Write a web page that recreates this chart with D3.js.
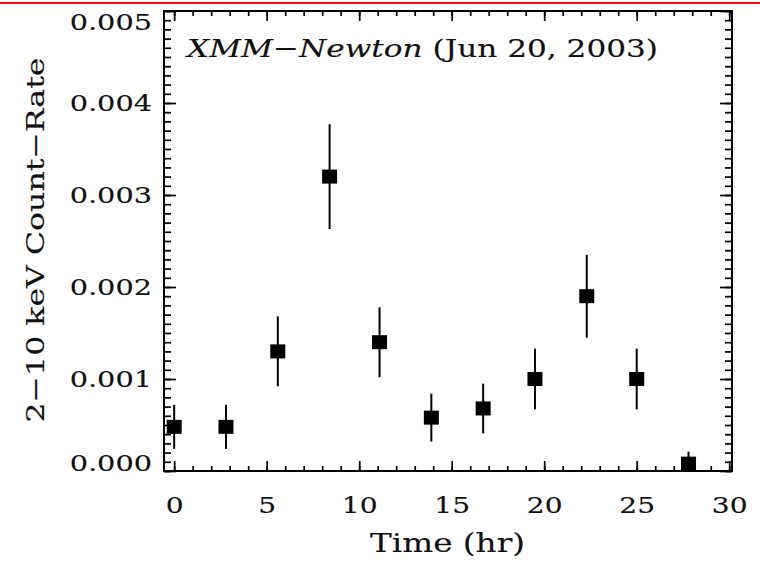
<!DOCTYPE html>
<html><head><meta charset="utf-8">
<script src="https://cdn.jsdelivr.net/npm/d3@7"></script>
<style>
html,body{margin:0;padding:0;background:#fff;}
svg{display:block;}
text{font-family:"DejaVu Serif",serif;fill:#111;stroke:#111;stroke-width:0.15px;}
</style></head>
<body><svg id="c" width="760" height="561"></svg>
<script>
// ---- data ----
const times  = [0, 2.8, 5.6, 8.4, 11.1, 13.9, 16.7, 19.5, 22.3, 25.0, 27.8];
const rates  = [0.00048, 0.00048, 0.0013, 0.0032, 0.0014, 0.00058, 0.00068, 0.0010, 0.0019, 0.0010, 0.00008];
const errors = [0.00024, 0.00024, 0.00038, 0.00057, 0.00038, 0.00026, 0.00027, 0.00033, 0.00045, 0.00033, 0.00013];
const xTicks = [0, 5, 10, 15, 20, 25, 30];
const yTicks = [0, 0.001, 0.002, 0.003, 0.004, 0.005];
const titleItalic = "XMM\u2212Newton";
const titleRest = " (Jun 20, 2003)";
const xLabel = "Time (hr)";
const yLabel = "2\u221210 keV Count\u2212Rate";

const svg = d3.select("#c");
const L = 164, R = 732, T = 11, B = 471;
const x = d3.scaleLinear().domain([-0.55, 30.15]).range([L, R]);
const y = d3.scaleLinear().domain([0, 0.005]).range([B, T]);

// red rule at top
svg.append("rect").attr("x", 0).attr("y", 2).attr("width", 760).attr("height", 2).attr("fill", "#e4161c");

function stretch(sel, f) {
  sel.each(function() {
    const n = this.getComputedTextLength();
    d3.select(this).attr("textLength", n * f).attr("lengthAdjust", "spacingAndGlyphs");
  });
}

const xMinor = d3.range(0, 31, 1);
const yMinor = d3.range(0, 51, 1).map(d => d * 0.0001);

function styleAxis(g) {
  g.selectAll("path.domain").remove();
  g.selectAll("line").attr("stroke", "#000").attr("stroke-width", 1.7);
}
// bottom
const gB = svg.append("g").attr("transform", `translate(0,${B})`)
  .call(d3.axisBottom(x).tickValues(xTicks).tickSize(-10).tickSizeOuter(0).tickPadding(26).tickFormat(d3.format("d")));
styleAxis(gB);
gB.selectAll("text").attr("font-size", 23).attr("font-family", "DejaVu Serif").call(stretch, 1.22);
const gBm = svg.append("g").attr("transform", `translate(0,${B})`)
  .call(d3.axisBottom(x).tickValues(xMinor).tickSize(-5).tickSizeOuter(0).tickFormat(""));
styleAxis(gBm);
// top
const gT = svg.append("g").attr("transform", `translate(0,${T})`)
  .call(d3.axisTop(x).tickValues(xTicks).tickSize(-10).tickSizeOuter(0).tickFormat(""));
styleAxis(gT);
const gTm = svg.append("g").attr("transform", `translate(0,${T})`)
  .call(d3.axisTop(x).tickValues(xMinor).tickSize(-5).tickSizeOuter(0).tickFormat(""));
styleAxis(gTm);
// left
const gL = svg.append("g").attr("transform", `translate(${L},0)`)
  .call(d3.axisLeft(y).tickValues(yTicks).tickSize(-12).tickSizeOuter(0).tickPadding(12).tickFormat(d3.format(".3f")));
styleAxis(gL);
gL.selectAll("text").attr("font-size", 23).attr("font-family", "DejaVu Serif").call(stretch, 1.25);
gL.selectAll(".tick").filter(d => d === 0.005).select("text").attr("dy", "0.82em");
gL.selectAll(".tick").filter(d => d === 0).select("text").attr("dy", "-0.02em");
const gLm = svg.append("g").attr("transform", `translate(${L},0)`)
  .call(d3.axisLeft(y).tickValues(yMinor).tickSize(-7).tickSizeOuter(0).tickFormat(""));
styleAxis(gLm);
// right
const gR = svg.append("g").attr("transform", `translate(${R},0)`)
  .call(d3.axisRight(y).tickValues(yTicks).tickSize(-12).tickSizeOuter(0).tickFormat(""));
styleAxis(gR);
const gRm = svg.append("g").attr("transform", `translate(${R},0)`)
  .call(d3.axisRight(y).tickValues(yMinor).tickSize(-7).tickSizeOuter(0).tickFormat(""));
styleAxis(gRm);

// frame
svg.append("rect").attr("x", L).attr("y", T).attr("width", R - L).attr("height", B - T)
  .attr("fill", "none").attr("stroke", "#000").attr("stroke-width", 2);

// data
svg.append("clipPath").attr("id", "clip").append("rect")
  .attr("x", L).attr("y", T).attr("width", R - L).attr("height", B - T);
const pts = times.map((t, i) => ({t, r: rates[i], e: errors[i]}));
const gD = svg.append("g").attr("clip-path", "url(#clip)");
gD.selectAll("line.err").data(pts).join("line").attr("class", "err")
  .attr("x1", d => x(d.t)).attr("x2", d => x(d.t))
  .attr("y1", d => y(d.r - d.e)).attr("y2", d => y(d.r + d.e))
  .attr("stroke", "#000").attr("stroke-width", 2);
const sw = 15, sh = 14;
gD.selectAll("rect.pt").data(pts).join("rect").attr("class", "pt")
  .attr("x", d => x(d.t) - sw / 2).attr("y", d => y(d.r) - sh / 2)
  .attr("width", sw).attr("height", sh).attr("fill", "#000");

// title
const tt = svg.append("text").attr("x", 187).attr("y", 57).attr("font-size", 25);
tt.append("tspan").attr("font-style", "italic").text(titleItalic);
tt.append("tspan").text(titleRest);
tt.attr("textLength", 471).attr("lengthAdjust", "spacingAndGlyphs");

// axis titles
svg.append("text").attr("x", (370 + 525) / 2).attr("y", 552).attr("text-anchor", "middle")
  .attr("font-size", 26).text(xLabel).attr("textLength", 155).attr("lengthAdjust", "spacingAndGlyphs");
svg.append("text").attr("transform", "translate(44,240) rotate(-90)").attr("text-anchor", "middle")
  .attr("font-size", 25).text(yLabel).attr("textLength", 365).attr("lengthAdjust", "spacingAndGlyphs");
</script></body></html>
